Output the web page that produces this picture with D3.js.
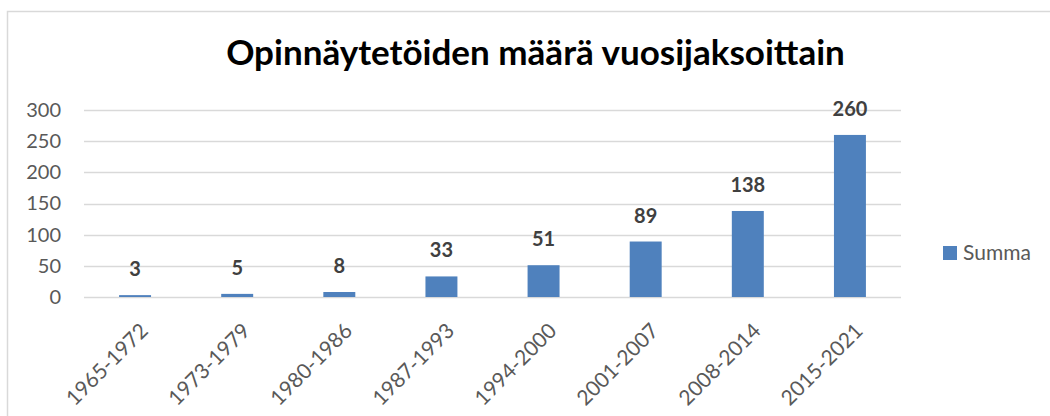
<!DOCTYPE html>
<html>
<head>
<meta charset="utf-8">
<script src="https://cdn.jsdelivr.net/npm/d3@7.9.0/dist/d3.min.js"></script>
<style>
  body { margin: 0; background: #fff; }
  svg { display: block; font-family: Lato, "Noto Sans", sans-serif; }
</style>
</head>
<body>
<div id="chart"></div>
<script>
// Data
const periods = ["1965-1972", "1973-1979", "1980-1986", "1987-1993", "1994-2000", "2001-2007", "2008-2014", "2015-2021"];
const summa = [3, 5, 8, 33, 51, 89, 138, 260];
const yTicks = [0, 50, 100, 150, 200, 250, 300];
const chartTitle = "Opinnäytetöiden määrä vuosijaksoittain";
const seriesName = "Summa";

const W = 1050, H = 416;
const plot = { left: 84, right: 901, top: 110, bottom: 297 };

const svg = d3.select("#chart")
  .append("svg")
    .attr("width", W)
    .attr("height", H);

svg.append("rect")
  .attr("width", W).attr("height", H)
  .attr("fill", "#fff");

// chart area border (runs off the right and bottom edges)
svg.append("rect")
  .attr("x", 7.5).attr("y", 11.5)
  .attr("width", W + 20).attr("height", H + 20)
  .attr("fill", "none")
  .attr("stroke", "#d9d9d9")
  .attr("stroke-width", 1.5);

// scales
const x = d3.scaleBand()
  .domain(periods)
  .range([plot.left, plot.right])
  .paddingInner(0.687)
  .paddingOuter(0.3435);

const y = d3.scaleLinear()
  .domain([0, 300])
  .range([plot.bottom, plot.top]);

// gridlines
svg.append("g")
  .selectAll("line")
  .data(yTicks)
  .join("line")
    .attr("x1", plot.left)
    .attr("x2", plot.right)
    .attr("y1", d => Math.round(y(d)) + 0.5)
    .attr("y2", d => Math.round(y(d)) + 0.5)
    .attr("stroke", "#d9d9d9")
    .attr("stroke-width", 1.3);

// y axis labels
const yAxis = svg.append("g")
  .attr("transform", `translate(${plot.left},0)`)
  .call(d3.axisLeft(y).tickValues(yTicks).tickSize(0).tickPadding(23));
yAxis.select(".domain").remove();
yAxis.selectAll("text")
  .attr("fill", "#595959")
  .style("font-size", "20px")
  .style("font-family", "Lato, sans-serif");

// bars
const data = periods.map((p, i) => ({ period: p, value: summa[i] }));

svg.append("g")
  .selectAll("rect")
  .data(data)
  .join("rect")
    .attr("x", d => x(d.period))
    .attr("y", d => y(d.value))
    .attr("width", x.bandwidth())
    .attr("height", d => y(0) - y(d.value))
    .attr("fill", "#4f81bd");

// value labels
svg.append("g")
  .selectAll("text")
  .data(data)
  .join("text")
    .attr("x", d => x(d.period) + x.bandwidth() / 2)
    .attr("y", d => y(d.value) - 19)
    .attr("text-anchor", "middle")
    .attr("fill", "#404040")
    .style("font-size", "20px")
    .style("font-weight", "bold")
    .text(d => d.value);

// x axis labels, rotated
const xAxis = svg.append("g")
  .attr("transform", `translate(0,${plot.bottom})`)
  .call(d3.axisBottom(x).tickSize(0).tickPadding(0));
xAxis.select(".domain").remove();
xAxis.selectAll("text")
  .attr("fill", "#595959")
  .style("font-size", "21px")
  .style("font-family", "Lato, sans-serif")
  .attr("text-anchor", "end")
  .attr("y", 0)
  .attr("dy", "0.35em")
  .attr("transform", "translate(9,30) rotate(-45)");

// title, fitted to the width it has in the reference
const title = svg.append("text")
  .attr("x", 535.5)
  .attr("y", 65)
  .attr("text-anchor", "middle")
  .attr("fill", "#000")
  .style("font-weight", "bold")
  .style("font-size", "30px")
  .text(chartTitle);
const tw = title.node().getComputedTextLength();
title.style("font-size", (30 * 619 / tw).toFixed(2) + "px");

// legend
const legend = svg.append("g")
  .attr("transform", "translate(943,246)");
legend.append("rect")
  .attr("width", 14)
  .attr("height", 14)
  .attr("fill", "#4f81bd");
legend.append("text")
  .attr("x", 20)
  .attr("y", 14)
  .attr("fill", "#595959")
  .style("font-size", "21px")
  .text(seriesName);
</script>
</body>
</html>
